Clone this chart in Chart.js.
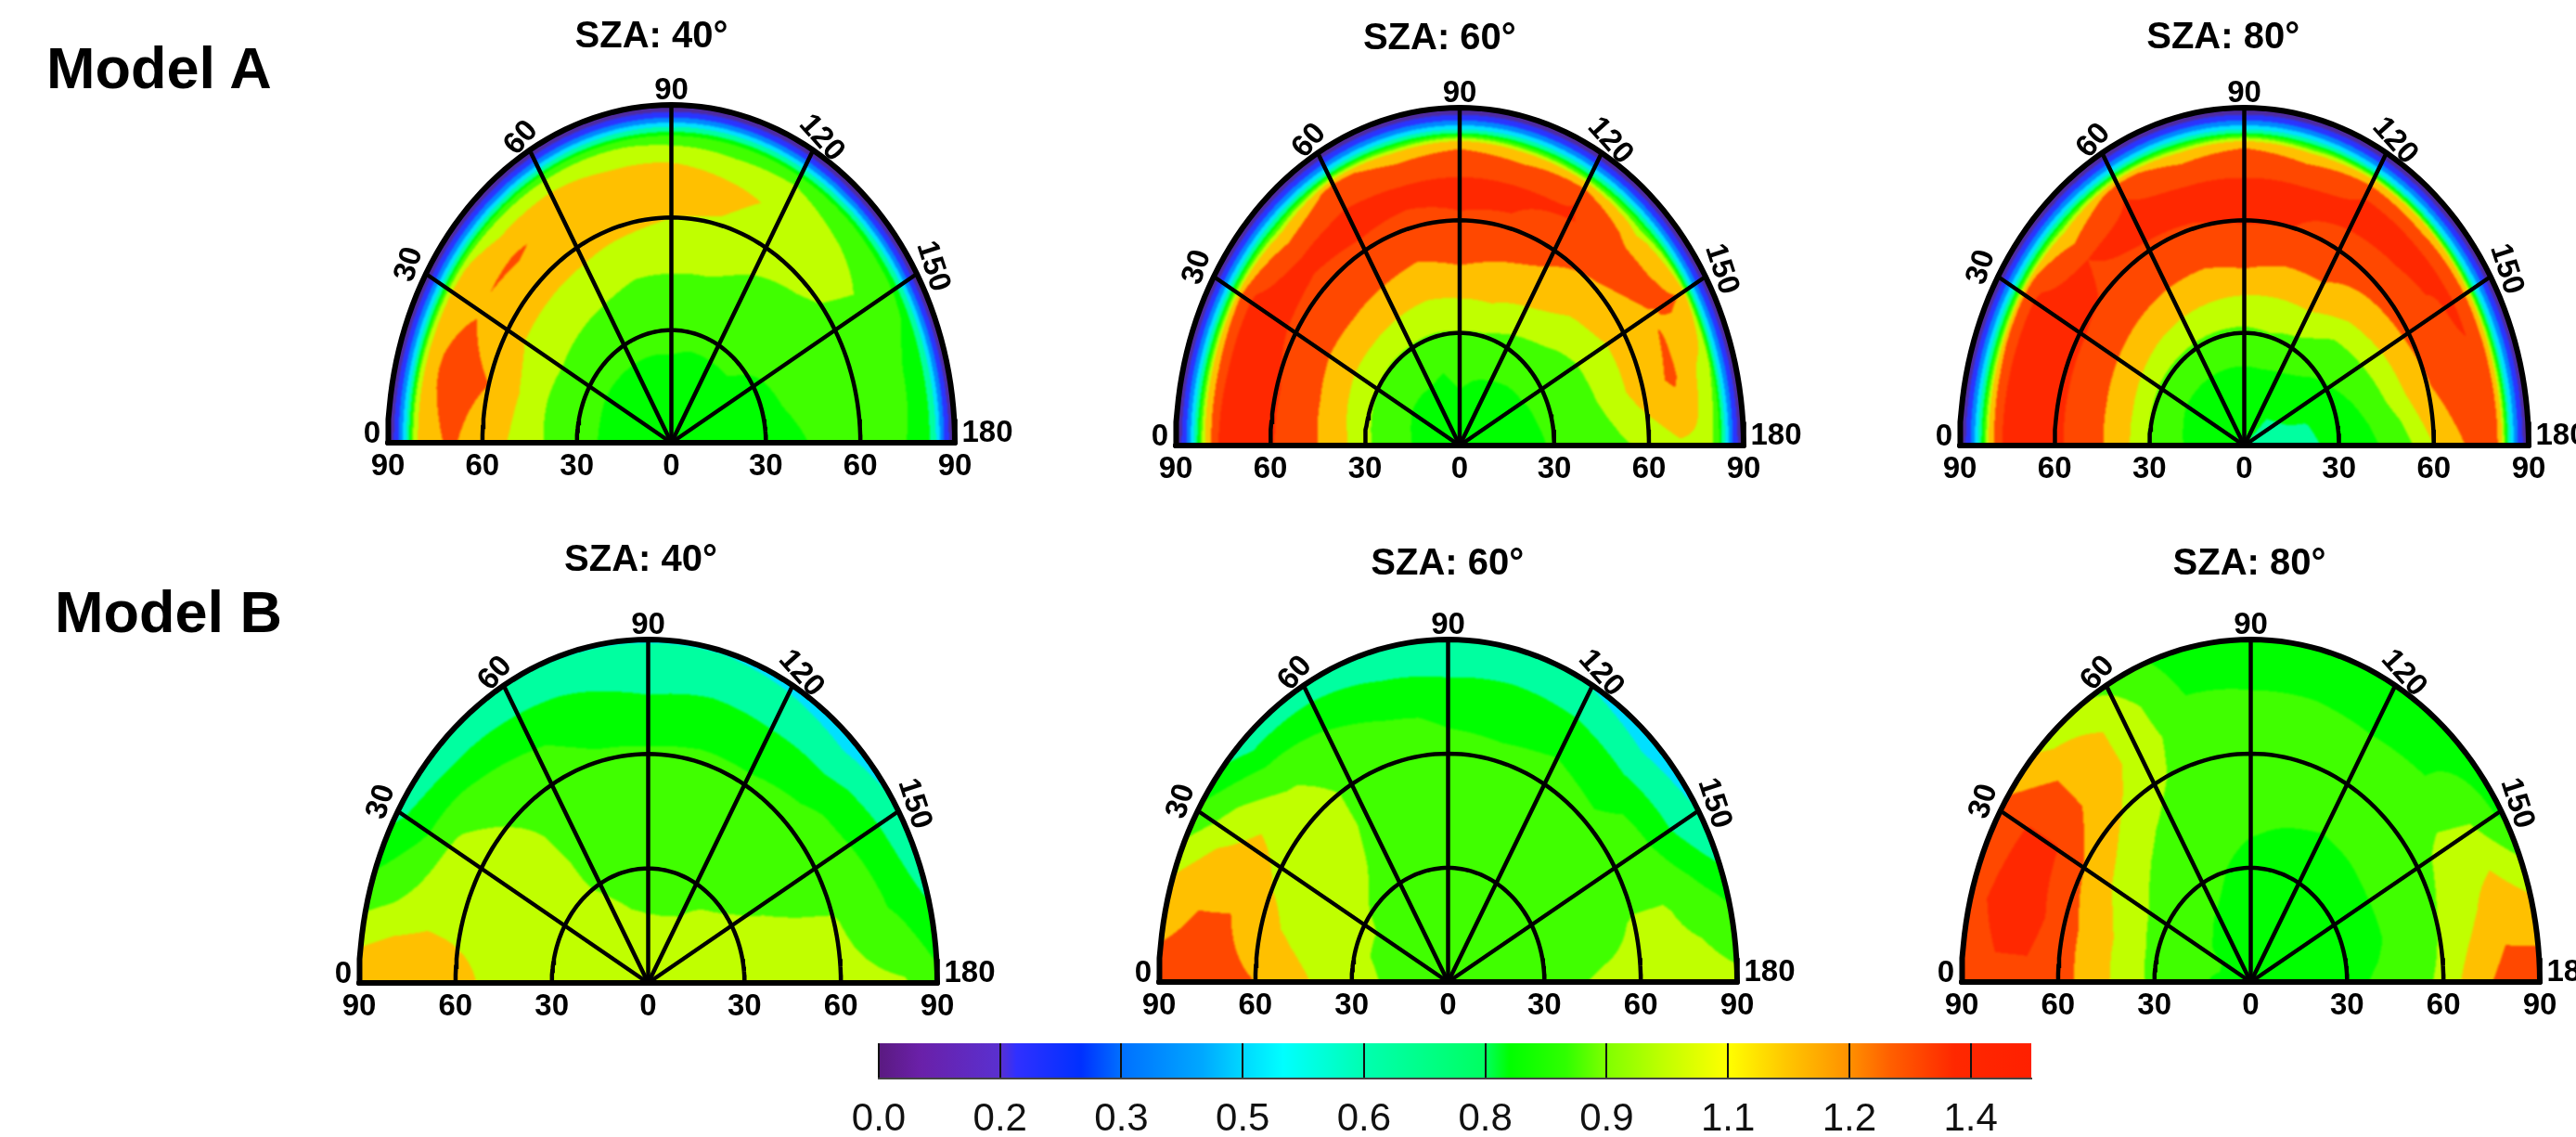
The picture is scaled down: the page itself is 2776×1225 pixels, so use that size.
<!DOCTYPE html>
<html><head><meta charset="utf-8">
<script src="https://cdn.jsdelivr.net/npm/chart.js@4"></script>
<style>
html,body{margin:0;padding:0;background:#fff;width:2776px;height:1225px;overflow:hidden}
canvas{position:absolute;display:block}
.model{position:absolute;font:bold 63px "Liberation Sans",Arial,sans-serif;color:#000;white-space:nowrap;line-height:63px}
</style></head><body>
<div class="model" style="left:50px;top:42px">Model A</div>
<div class="model" style="left:59px;top:628px">Model B</div>
<script>
const azimuths=[0,15,30,45,60,75,90,105,120,135,150,165,180];
const zenithA=[0,10,20,30,40,50,60,70,76,80,82,84,86,88,90];
const zenithB=[0,10,20,30,40,50,60,70,80,90];
const levels=[.15,.30,.45,.60,.75,.85,.95,1.05,1.20,1.35];
const bandColors=['#4f2a9e','#2a34ff','#0088ff','#00e0ff','#00ffa0','#00ff00','#40ff00','#c0ff00','#ffc000','#ff4800','#ff2800'];
const xTickValues=[-90,-60,-30,0,30,60,90];
const azimuthLabels=['30','60','90','120','150'];
const colorbarLabels=['0.0','0.2','0.3','0.5','0.6','0.8','0.9','1.1','1.2','1.4'];
const colorbarStops=[0,.05,.15,.17,.25,.3,.4,.45,.5,.6,.75,.78,.85,.9,.97,1.05,1.12,1.2,1.25,1.33,1.425];
const colorbarColors=['#5a1a80','#6a20a8','#5a30d0','#3030ff','#0030ff','#0070ff','#00a8ff','#00d8ff','#00ffff','#00ffb0','#00ff60','#00ff00','#30ff00','#80ff00','#c0ff00','#ffff00','#ffc800','#ff9000','#ff6000','#ff2800','#ff2000'];

const a40=[
[.78,.78,.78,.78,.78,.78,.78,.78,.78,.78,.78,.78,.78],
[.80,.80,.80,.80,.80,.80,.80,.80,.80,.80,.80,.79,.79],
[.83,.83,.83,.83,.83,.83,.84,.83,.84,.84,.83,.81,.80],
[.89,.89,.88,.88,.88,.88,.87,.87,.86,.86,.84,.83,.81],
[.945,.94,.95,.94,.93,.92,.91,.91,.90,.89,.87,.86,.84],
[1.03,1.05,1.02,1.02,1.01,.98,.99,.98,.94,.91,.89,.88,.87],
[1.12,1.20,1.10,1.09,1.09,1.08,1.05,1.04,1.00,.975,.92,.92,.89],
[1.22,1.27,1.19,1.22,1.15,1.15,1.12,1.08,1.03,1.00,.93,.95,.88],
[1.17,1.21,1.16,1.07,1.07,1.03,1.03,.99,.98,.94,.90,.85,.84],
[1.08,1.10,1.08,1.00,.98,.96,.93,.92,.94,.90,.88,.80,.79],
[.95,.95,.92,.90,.88,.85,.84,.84,.84,.84,.82,.76,.75],
[.62,.62,.62,.62,.62,.62,.62,.62,.62,.62,.62,.60,.60],
[.36,.36,.36,.36,.36,.36,.36,.36,.36,.36,.36,.36,.36],
[.16,.16,.16,.16,.16,.16,.16,.16,.16,.16,.16,.16,.16],
[0,0,0,0,0,0,0,0,0,0,0,0,0]];
const a60=[
[.78,.78,.78,.78,.78,.78,.78,.78,.78,.78,.78,.78,.78],
[.82,.82,.82,.81,.81,.81,.82,.81,.81,.81,.81,.80,.80],
[.88,.87,.86,.86,.86,.85,.88,.86,.85,.84,.84,.83,.82],
[.97,.96,.95,.94,.94,.94,.945,.94,.91,.89,.87,.87,.86],
[1.12,1.09,1.07,1.07,1.06,1.05,1.06,1.06,1.01,.97,.92,.91,.89],
[1.28,1.28,1.24,1.24,1.22,1.19,1.235,1.19,1.16,1.06,1.02,.99,.93],
[1.36,1.36,1.33,1.33,1.33,1.32,1.34,1.33,1.24,1.18,1.10,1.12,.97],
[1.40,1.40,1.40,1.37,1.39,1.38,1.38,1.38,1.355,1.31,1.19,1.23,1.03],
[1.38,1.35,1.37,1.22,1.30,1.25,1.26,1.25,1.35,1.16,1.22,1.08,1.03],
[1.12,1.15,1.20,1.05,1.24,1.12,1.18,1.12,1.15,1.02,1.20,1.00,.96],
[.92,.92,.93,.88,.98,.90,.95,.90,.90,.88,1.05,.95,.88],
[.62,.62,.62,.62,.63,.62,.62,.62,.62,.62,.65,.62,.62],
[.36,.36,.36,.36,.36,.36,.36,.36,.36,.36,.36,.36,.36],
[.16,.16,.16,.16,.16,.16,.16,.16,.16,.16,.16,.16,.16],
[0,0,0,0,0,0,0,0,0,0,0,0,0]];
const a80=[
[.76,.76,.76,.76,.76,.76,.76,.75,.75,.75,.74,.74,.74],
[.79,.79,.79,.79,.79,.79,.78,.78,.77,.75,.74,.74,.72],
[.855,.85,.84,.84,.84,.84,.84,.84,.83,.82,.78,.745,.73],
[.94,.94,.93,.93,.93,.93,.93,.94,.91,.87,.84,.80,.78],
[1.12,1.11,1.09,1.07,1.06,1.055,1.05,1.04,1.03,.95,.91,.87,.83],
[1.30,1.29,1.27,1.25,1.23,1.22,1.26,1.21,1.20,1.10,1.05,1.00,.90],
[1.37,1.37,1.37,1.34,1.34,1.345,1.36,1.35,1.30,1.28,1.24,1.18,1.05],
[1.40,1.40,1.40,1.35,1.38,1.38,1.37,1.38,1.38,1.37,1.34,1.345,1.20],
[1.38,1.38,1.38,1.20,1.35,1.25,1.28,1.25,1.35,1.35,1.36,1.34,1.30],
[1.15,1.18,1.24,1.08,1.24,1.12,1.18,1.12,1.20,1.19,1.25,1.22,1.22],
[.92,.92,.93,.90,.98,.90,.95,.90,1.03,1.05,1.03,1.00,1.00],
[.62,.62,.62,.62,.62,.62,.62,.62,.62,.62,.62,.62,.62],
[.36,.36,.36,.36,.36,.36,.36,.36,.36,.36,.36,.36,.36],
[.16,.16,.16,.16,.16,.16,.16,.16,.16,.16,.16,.16,.16],
[0,0,0,0,0,0,0,0,0,0,0,0,0]];
const b40=[
[.98,.98,.98,.98,.98,.98,.98,.98,.98,.98,.98,.98,.98],
[.97,.98,.98,.97,.97,.97,.97,.97,.97,.97,.98,.98,.99],
[.98,.99,.97,.97,.96,.95,.945,.945,.95,.97,.97,.98,1.0],
[1.0,1.0,.99,.96,.945,.93,.93,.93,.93,.94,.96,.98,1.0],
[1.02,1.01,1.01,.98,.92,.90,.90,.90,.90,.91,.94,.98,1.0],
[1.03,1.02,1.02,.98,.89,.88,.88,.88,.88,.89,.91,.97,.99],
[1.09,1.02,1.02,.94,.875,.86,.86,.86,.86,.87,.89,.96,.98],
[1.17,1.01,.97,.89,.855,.83,.81,.83,.83,.84,.865,.90,.97],
[1.18,.96,.83,.81,.77,.74,.70,.72,.71,.72,.80,.83,.96],
[1.15,.90,.72,.62,.60,.59,.59,.59,.57,.52,.62,.74,.88]];
const b60=[
[.90,.90,.90,.90,.90,.90,.90,.90,.90,.90,.90,.90,.90],
[.92,.92,.92,.91,.90,.90,.90,.90,.90,.90,.90,.90,.90],
[.945,.94,.93,.92,.90,.90,.90,.90,.90,.90,.90,.90,.90],
[.98,.96,.965,.93,.91,.90,.90,.90,.90,.90,.90,.90,.91],
[1.03,.99,1.0,.97,.92,.90,.89,.89,.89,.89,.90,.91,.94],
[1.10,1.03,1.02,1.0,.93,.90,.88,.88,.88,.88,.89,.92,.97],
[1.20,1.08,1.03,1.0,.93,.89,.87,.87,.87,.865,.89,.96,.98],
[1.26,1.20,1.08,.96,.90,.86,.84,.83,.845,.83,.88,.96,.99],
[1.30,1.19,1.0,.85,.82,.77,.75,.76,.75,.72,.75,.91,1.0],
[1.28,1.10,.87,.68,.68,.66,.64,.62,.59,.50,.60,.83,.98]];
const b80=[
[.80,.80,.80,.80,.80,.80,.80,.80,.80,.80,.80,.80,.80],
[.84,.85,.85,.83,.82,.81,.81,.81,.81,.81,.80,.80,.80],
[.87,.87,.86,.86,.845,.83,.82,.82,.82,.81,.81,.81,.81],
[.93,.92,.91,.90,.88,.85,.83,.83,.83,.82,.82,.82,.83],
[1.0,1.0,.97,.93,.90,.87,.855,.845,.84,.84,.84,.84,.86],
[1.13,1.12,1.05,.98,.93,.89,.88,.87,.86,.865,.88,.88,.91],
[1.27,1.27,1.20,1.07,.97,.90,.88,.88,.88,.88,.92,.95,.97],
[1.32,1.40,1.36,1.15,1.00,.89,.87,.87,.87,.87,.98,1.02,1.12],
[1.32,1.40,1.36,1.15,1.00,.84,.84,.84,.83,.84,.96,1.12,1.27],
[1.24,1.30,1.25,1.00,.93,.80,.80,.80,.79,.80,.82,1.05,1.30]];

const panels=[
{title:'SZA: 40°',values:a40,rows:zenithA,cx:723.6,base:477,rx:305.6,ry:364,tx:702,ty:40},
{title:'SZA: 60°',values:a60,rows:zenithA,cx:1572.6,base:480,rx:306,ry:364,tx:1551,ty:42},
{title:'SZA: 80°',values:a80,rows:zenithA,cx:2419,base:480,rx:306.7,ry:364,tx:2396,ty:41},
{title:'SZA: 40°',values:b40,rows:zenithB,cx:698,base:1059,rx:311.5,ry:370,tx:690,ty:604},
{title:'SZA: 60°',values:b60,rows:zenithB,cx:1560.7,base:1058,rx:311.5,ry:369,tx:1560,ty:608},
{title:'SZA: 80°',values:b80,rows:zenithB,cx:2425.5,base:1058,rx:311.5,ry:369,tx:2424,ty:608}];

const FONT='"Liberation Sans",Arial,sans-serif';
function polar(z,az){const a=az*Math.PI/180;return {x:-z*Math.cos(a),y:z*Math.sin(a)};}
function arc(z){const p=[];for(let a=0;a<=180;a+=2)p.push(polar(z,a));return p;}
function bandOf(v){let i=0;while(i<levels.length&&v>=levels[i])i++;return i;}
function lookup(arr,v){let i=0;while(i<arr.length-2&&v>arr[i+1])i++;return [i,(v-arr[i])/(arr[i+1]-arr[i])];}
function rgb(h){return [parseInt(h.slice(1,3),16),parseInt(h.slice(3,5),16),parseInt(h.slice(5,7),16)];}
const bandRgb=bandColors.map(rgb);

const contourPlugin={id:'contour',beforeDatasetsDraw(chart){
  const p=chart.config.options.plugins.contour.panel,sx=chart.scales.x,sy=chart.scales.y,area=chart.chartArea;
  const w=Math.ceil(area.right-area.left),h=Math.ceil(area.bottom-area.top);
  const off=document.createElement('canvas');off.width=w;off.height=h;
  const oc=off.getContext('2d'),img=oc.createImageData(w,h);
  for(let j=0;j<h;j++)for(let i=0;i<w;i++){
    const x=sx.getValueForPixel(area.left+i+.5),y=sy.getValueForPixel(area.top+j+.5);
    const z=Math.hypot(x,y);if(z>90)continue;
    const az=Math.atan2(y,-x)*180/Math.PI;
    const [r,fr]=lookup(p.rows,z),[c,fc]=lookup(azimuths,Math.max(0,Math.min(180,az)));
    const M=p.values;
    const v=(M[r][c]*(1-fc)+M[r][c+1]*fc)*(1-fr)+(M[r+1][c]*(1-fc)+M[r+1][c+1]*fc)*fr;
    const col=bandRgb[bandOf(v)],k=(j*w+i)*4;
    img.data[k]=col[0];img.data[k+1]=col[1];img.data[k+2]=col[2];img.data[k+3]=255;
  }
  oc.putImageData(img,0,0);
  const ctx=chart.ctx;ctx.save();ctx.filter='blur(1px)';ctx.drawImage(off,area.left,area.top);ctx.restore();
}};
const labelPlugin={id:'polarLabels',afterDraw(chart){
  const o=chart.config.options.plugins.polarLabels,p=o.panel,sx=chart.scales.x,sy=chart.scales.y,ctx=chart.ctx;
  ctx.save();ctx.fillStyle='#000';ctx.textAlign='center';ctx.textBaseline='middle';
  ctx.font='bold 40px '+FONT;ctx.fillText(p.title,p.tx-o.left,p.ty-o.top);
  ctx.font='bold 33px '+FONT;
  const spec=[[30,-18,-10,-72],[60,-9,-13,-48],[90,0,-15,0],[120,9,-13,48],[150,17,-8,72]];
  azimuthLabels.forEach((t,i)=>{const s=spec[i],q=polar(90,+t);
    ctx.save();ctx.translate(sx.getPixelForValue(q.x)+s[1],sy.getPixelForValue(q.y)+s[2]);ctx.rotate(s[3]*Math.PI/180);ctx.fillText(t,0,0);ctx.restore();});
  ctx.font='bold 33px '+FONT;
  ctx.fillText('0',sx.getPixelForValue(-90)-17,sy.getPixelForValue(0)-9);
  ctx.fillText('180',sx.getPixelForValue(90)+35,sy.getPixelForValue(0)-10);
  ctx.restore();
}};

panels.forEach(p=>{
  const PX=100,PT=130,SH=60;
  const left=p.cx-p.rx-PX,top=p.base-p.ry-PT,W=Math.round(2*p.rx+2*PX),H=Math.round(PT+p.ry+SH);
  const cv=document.createElement('canvas');cv.width=W;cv.height=H;
  cv.style.left=left+'px';cv.style.top=top+'px';cv.style.width=W+'px';cv.style.height=H+'px';
  document.body.appendChild(cv);
  const line=(data,w)=>({data,showLine:true,pointRadius:0,borderColor:'#000',backgroundColor:'#000',borderWidth:w,tension:0,clip:false,borderCapStyle:'round'});
  const sets=[
    line(arc(90),6),line(arc(60),4.5),line(arc(30),4.5),
    line([{x:-90,y:0},{x:90,y:0}],6),
    ...[30,60,90,120,150].map(a=>line([{x:0,y:0},polar(90,a)],4.5))];
  new Chart(cv,{type:'scatter',data:{datasets:sets},plugins:[contourPlugin,labelPlugin],options:{
    responsive:false,animation:false,devicePixelRatio:1,events:[],
    layout:{padding:{left:PX,right:PX,top:PT,bottom:0}},
    plugins:{legend:{display:false},tooltip:{enabled:false},title:{display:false},
      contour:{panel:p},polarLabels:{panel:p,left,top}},
    scales:{
      x:{type:'linear',min:-90,max:90,position:'bottom',
        afterFit(s){s.height=SH;},
        afterBuildTicks(s){s.ticks=xTickValues.map(v=>({value:v}));},
        grid:{display:false,drawTicks:false},border:{display:false},
        ticks:{autoSkip:false,maxRotation:0,minRotation:0,padding:6,color:'#000',
          font:{family:FONT,weight:'bold',size:33},callback:v=>String(Math.abs(v))}},
      y:{type:'linear',min:0,max:90,display:false}
    }}});
});

(function(){
  const left=947,right=2189,top=1124,bottom=1162,PX=60,BH=60;
  const W=right-left+2*PX,H=bottom-top+BH+6;
  const cv=document.createElement('canvas');cv.width=W;cv.height=H;
  cv.style.left=(left-PX)+'px';cv.style.top=(top-6)+'px';cv.style.width=W+'px';cv.style.height=H+'px';
  document.body.appendChild(cv);
  const fill=c=>{const a=c.chart.chartArea;if(!a)return '#000';const s=c.chart.scales.x;
    const g=c.chart.ctx.createLinearGradient(s.getPixelForValue(0),0,s.getPixelForValue(1.425),0);
    colorbarStops.forEach((v,i)=>g.addColorStop(v/1.425,colorbarColors[i]));return g;};
  new Chart(cv,{type:'bar',data:{labels:['ratio'],datasets:[{data:[[0,1.425]],backgroundColor:fill,borderWidth:0,barPercentage:1,categoryPercentage:1,borderSkipped:false}]},
    options:{indexAxis:'y',responsive:false,animation:false,devicePixelRatio:1,events:[],
      layout:{padding:{left:PX,right:PX,top:6,bottom:0}},
      plugins:{legend:{display:false},tooltip:{enabled:false}},
      scales:{
        x:{type:'linear',min:0,max:1.425,position:'bottom',
          afterFit(s){s.height=BH;},
          afterBuildTicks(s){s.ticks=colorbarLabels.map((_,i)=>({value:i*.15}));},
          grid:{color:'#111',lineWidth:2,drawTicks:false,z:1},border:{display:true,color:'#444',width:2,z:2},
          ticks:{autoSkip:false,maxRotation:0,padding:19,color:'#111',font:{family:FONT,size:42},
            callback:(v,i)=>colorbarLabels[i]}},
        y:{display:false}
      }}});
})();
</script>
</body></html>
